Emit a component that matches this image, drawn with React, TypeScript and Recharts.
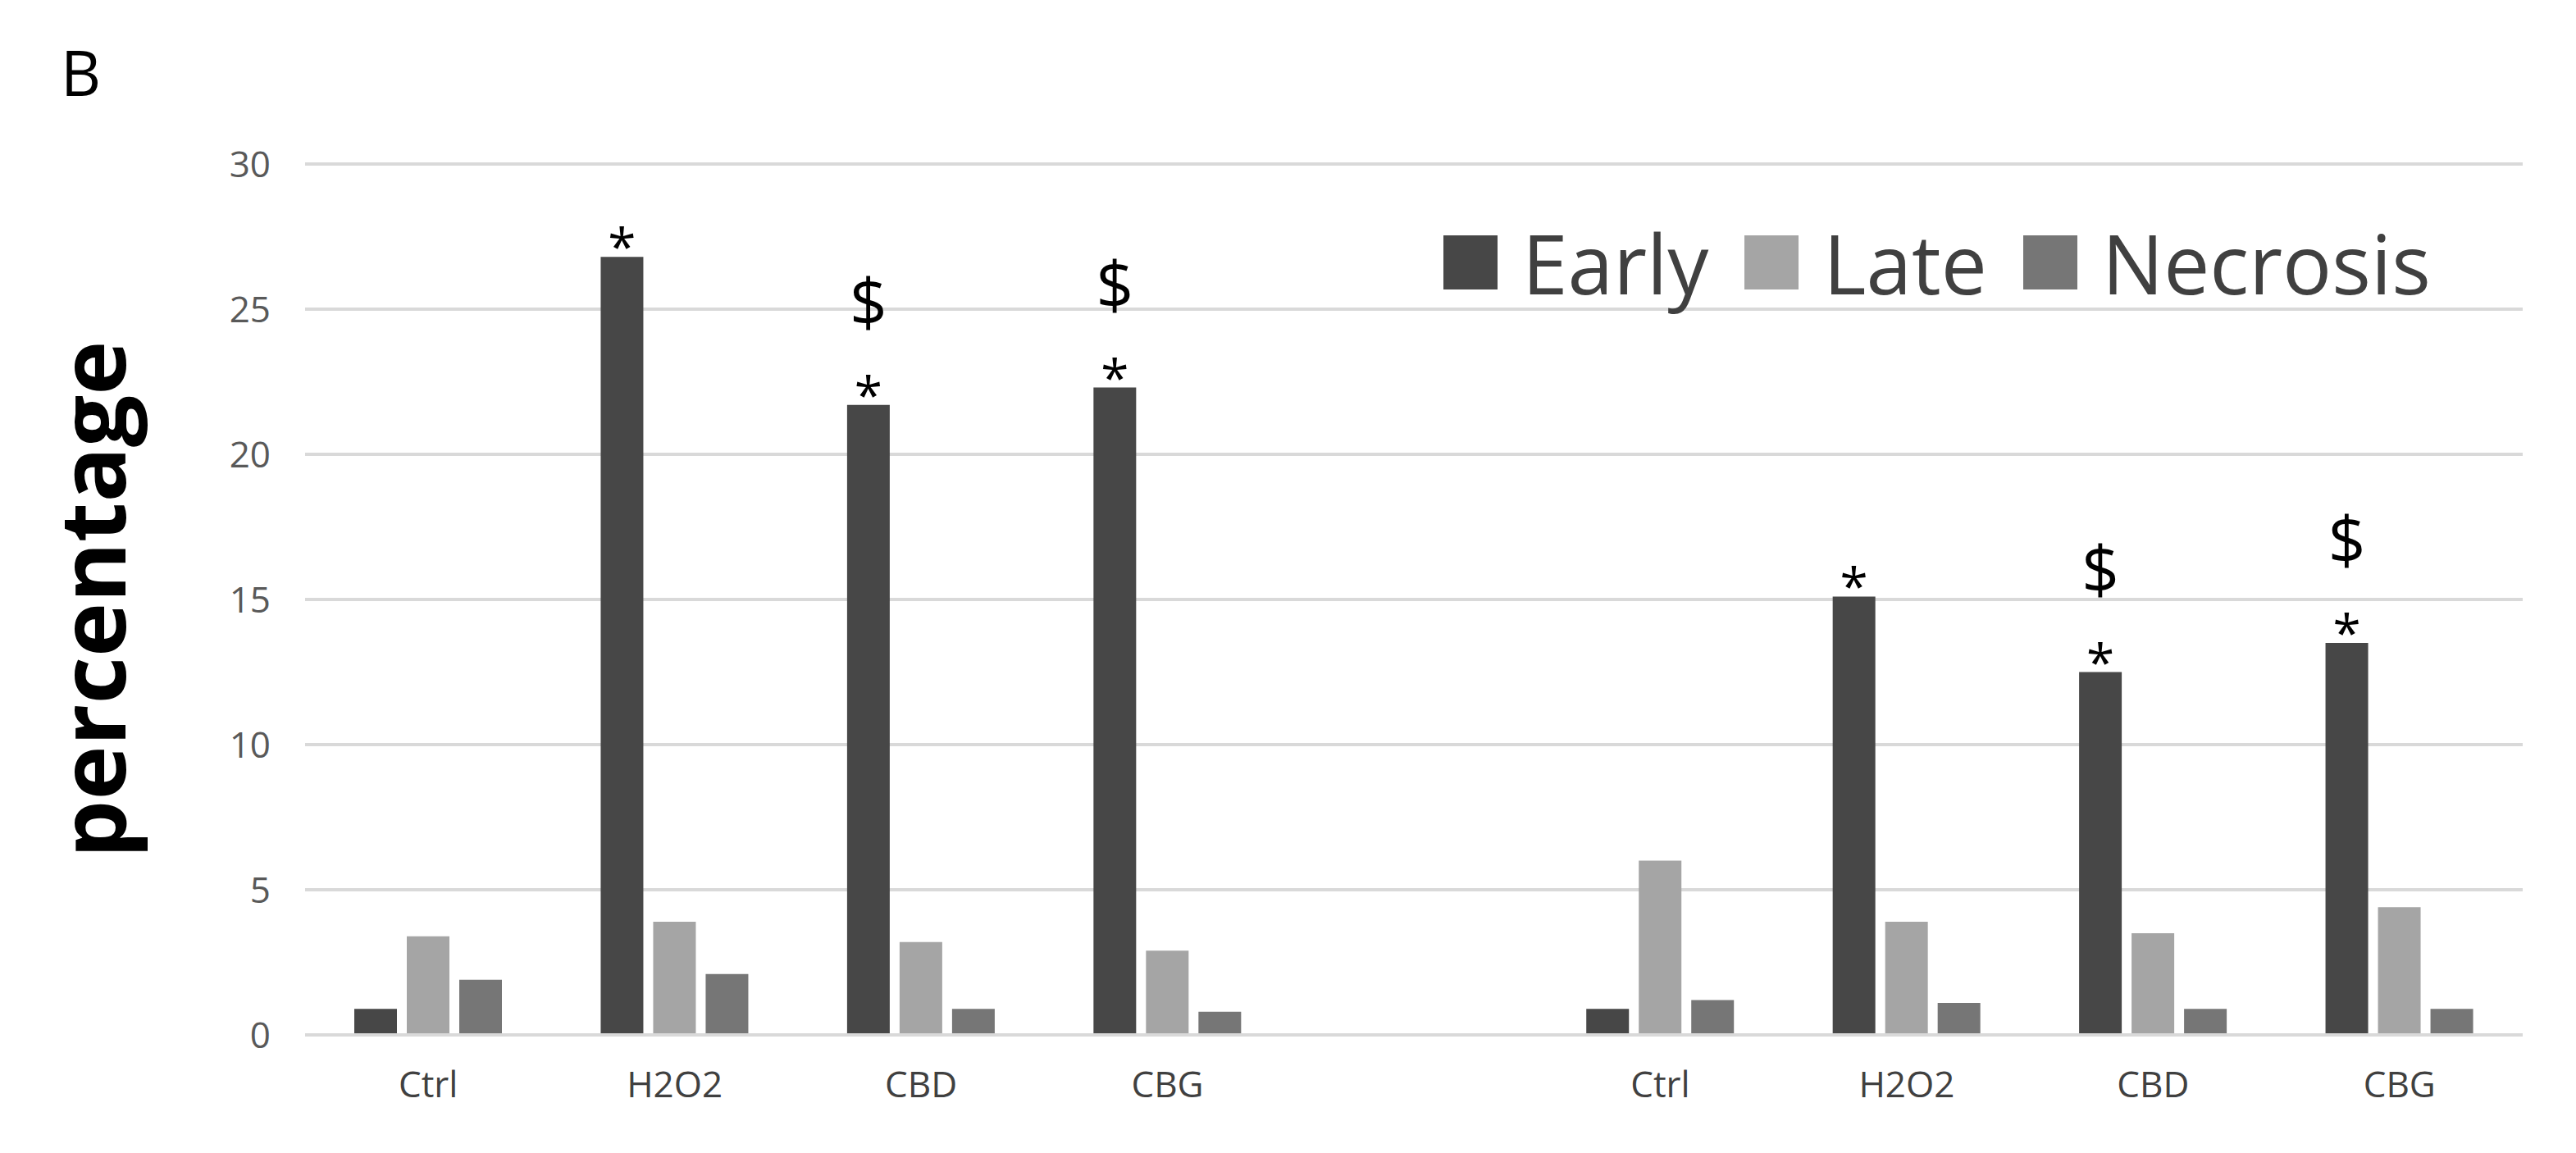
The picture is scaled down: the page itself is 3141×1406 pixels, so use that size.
import React from "react";
import { BarChart, Bar, XAxis, YAxis, CartesianGrid, LabelList } from "recharts";

const categories = ["Ctrl", "H2O2", "CBD", "CBG", "", "Ctrl", "H2O2", "CBD", "CBG"];
const early = [0.9, 26.8, 21.7, 22.3, null, 0.9, 15.1, 12.5, 13.5];
const late = [3.4, 3.9, 3.2, 2.9, null, 6.0, 3.9, 3.5, 4.4];
const necrosis = [1.9, 2.1, 0.9, 0.8, null, 1.2, 1.1, 0.9, 0.9];
const starMarks = ["", "*", "*", "*", "", "", "*", "*", "*"];
const dollarMarks = ["", "", "$", "$", "", "", "", "$", "$"];
const yTicks = [0, 5, 10, 15, 20, 25, 30];

const data = categories.map((c, i) => ({
  key: "k" + i,
  name: c,
  early: early[i],
  late: late[i],
  necrosis: necrosis[i],
}));

const FONT = "'Open Sans', 'Liberation Sans', sans-serif";
const C_EARLY = "#474747";
const C_LATE = "#a5a5a5";
const C_NEC = "#767676";

const Marks = (props: any) => {
  const { x, y, width, value } = props;
  const i = parseInt(String(value).slice(1), 10);
  const cx = x + width / 2;
  const s = starMarks[i];
  const d = dollarMarks[i];
  return (
    <g>
      {s ? (
        <text x={cx} y={y + 10} textAnchor="middle" fontSize={62} fontFamily={FONT} fill="#000">
          {s}
        </text>
      ) : null}
      {d ? (
        <text x={cx} y={y - 96} textAnchor="middle" fontSize={80} fontFamily={FONT} fill="#000">
          {d}
        </text>
      ) : null}
    </g>
  );
};

const XTick = (props: any) => {
  const { x, y, payload } = props;
  const label = categories[payload.index] ?? "";
  return (
    <text x={x} y={y + 68} textAnchor="middle" fontSize={44} fontFamily={FONT} fill="#404040">
      {label}
    </text>
  );
};

const legendItems = [
  { label: "Early", color: C_EARLY },
  { label: "Late", color: C_LATE },
  { label: "Necrosis", color: C_NEC },
];

export default function App() {
  return (
    <div style={{ position: "relative", width: 3125, height: 1390 }}>
      <BarChart
        width={3125}
        height={1390}
        data={data}
        margin={{ top: 192, right: 57, left: 220, bottom: 0 }}
        barGap={12}
        barSize={52}
      >
        <CartesianGrid horizontal vertical={false} stroke="#d9d9d9" strokeWidth={4} />
        <XAxis
          dataKey="key"
          height={136}
          axisLine={{ stroke: "#d9d9d9", strokeWidth: 4 }}
          tickLine={false}
          tick={<XTick />}
          interval={0}
        />
        <YAxis
          width={144}
          domain={[0, 30]}
          ticks={yTicks}
          axisLine={false}
          tickLine={false}
          tickMargin={36}
          tick={{ fontSize: 44, fontFamily: FONT, fill: "#595959" }}
          label={{
            value: "percentage",
            angle: -90,
            position: "insideLeft",
            dx: -120,
            dy: 0,
            style: { fontSize: 112, fontWeight: "bold", fontFamily: FONT, fill: "#000", textAnchor: "middle" },
          }}
        />
        <Bar dataKey="early" fill={C_EARLY} isAnimationActive={false}>
          <LabelList dataKey="key" content={<Marks />} />
        </Bar>
        <Bar dataKey="late" fill={C_LATE} isAnimationActive={false} />
        <Bar dataKey="necrosis" fill={C_NEC} isAnimationActive={false} />
      </BarChart>
      <div
        style={{
          position: "absolute",
          left: 66,
          top: 28,
          fontSize: 76,
          fontFamily: FONT,
          color: "#000",
        }}
      >
        B
      </div>
      <div
        style={{
          position: "absolute",
          left: 1752,
          top: 262,
          display: "flex",
          alignItems: "center",
          fontFamily: FONT,
          fontSize: 100,
          color: "#404040",
          lineHeight: 1,
        }}
      >
        {legendItems.map((it) => (
          <div key={it.label} style={{ display: "flex", alignItems: "center", marginRight: 44 }}>
            <div style={{ width: 66, height: 66, background: it.color, marginRight: 30 }} />
            <span>{it.label}</span>
          </div>
        ))}
      </div>
    </div>
  );
}
